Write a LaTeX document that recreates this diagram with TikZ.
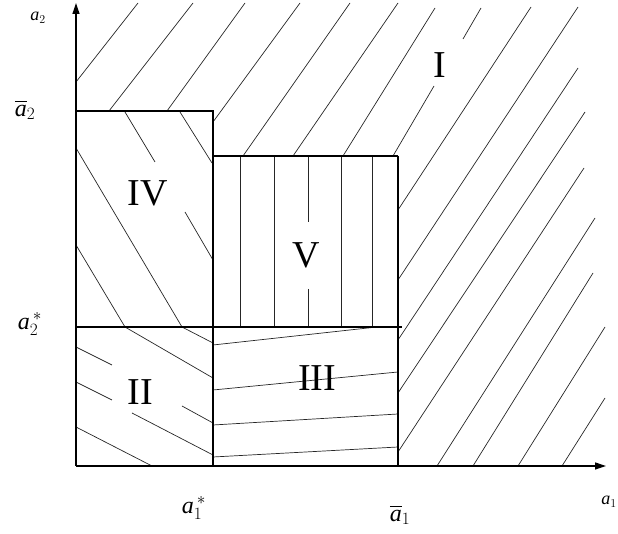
\documentclass[tikz,border=0pt]{standalone}
\usepackage{amsmath}
\usepackage{fontspec}
\setmainfont{Liberation Serif}
\usetikzlibrary{arrows.meta}

\begin{document}
\begin{tikzpicture}[
  x=1pt, y=1pt,
  axis/.style={-{Triangle[length=11pt,width=7pt]}, line width=1.2pt},
  edge/.style={line width=2pt},
  bold edge/.style={line width=2.8pt},
  hatch/.style={line width=0.7pt, black!85},
  region/.style={inner sep=0pt, font=\fontsize{38}{40}\selectfont},
  bound/.style={inner sep=0pt, font=\fontsize{24}{26}\selectfont},
  axname/.style={inner sep=0pt, font=\fontsize{18}{20}\selectfont},
]
\useasboundingbox (-76,-68) rectangle (542,466);

\coordinate (O) at (0,0);
\coordinate (xtip) at (530,0);
\coordinate (ytip) at (0,463);

\draw[hatch] (0,384) -- (62,463)
             (33,355) -- (117,463)
             (91,355) -- (169,463)
             (137,344) -- (224,463)
             (167,310) -- (274,463)
             (217,310) -- (322,463)
             (267,310) -- (359,458)
             (317,310) -- (358,380)
             (387,427) -- (405,458)
             (322,256) -- (455,459)
             (322,186) -- (502,459)
             (322,126) -- (502,398)
             (322,73) -- (509,354)
             (322,14) -- (508,298)
             (361,0) -- (519,248)
             (397,0) -- (517,193)
             (442,0) -- (529,139)
             (486,0) -- (529,68);

\draw[hatch] (49,354) -- (79,304)
             (109,254) -- (137,206)
             (104,354) -- (136,303)
             (0,318) -- (106,139)
             (0,221) -- (49,139);

\draw[hatch] (106,139) -- (137,123)
             (49,139) -- (137,88)
             (0,119) -- (36,101)
             (106,60) -- (137,43)
             (0,84) -- (36,66)
             (56,53) -- (137,11)
             (0,39) -- (76,0);

\draw[hatch] (137,121) -- (301,139)
             (137,76) -- (322,94)
             (137,41) -- (322,52)
             (137,9) -- (322,19);

\draw[hatch] (164,139) -- (164,310)
             (198,139) -- (198,310)
             (232.5,310) -- (232.5,244)
             (232.5,177) -- (232.5,139)
             (265,139) -- (265,310)
             (296.5,139) -- (296.5,310);

\draw[edge] (0,355) -- (137,355) -- (137,0);
\draw[bold edge] (137,310) -- (322,310);
\draw[edge] (322,310) -- (322,0);
\draw[bold edge] (0,139) -- (326,139);

\draw[axis] (O) -- (xtip);
\draw[axis] (O) -- (ytip);

\node[region] (regI) at (364,401) {I};
\node[region] (regII) at (64,74) {II};
\node[region] (regIII) at (241,88) {III};
\node[region] (regIV) at (72,273) {IV};
\node[region] (regV) at (230,211) {V};

\node[axname] (aname2) at (-38,448) {$\textit{a}_2$};
\node[axname, anchor=east] (aname1) at (541,-36) {$\textit{a}_1$};
\node[bound] (abar2) at (-51,356) {$\overline{\textit{a}}_2$};
\node[bound] (astar2) at (-46,142) {$\textit{a}_2^{\,*}$};
\node[bound] (astar1) at (118,-42) {$\textit{a}_1^{\,*}$};
\node[bound] (abar1) at (324,-49) {$\overline{\textit{a}}_1$};
\end{tikzpicture}
\end{document}
